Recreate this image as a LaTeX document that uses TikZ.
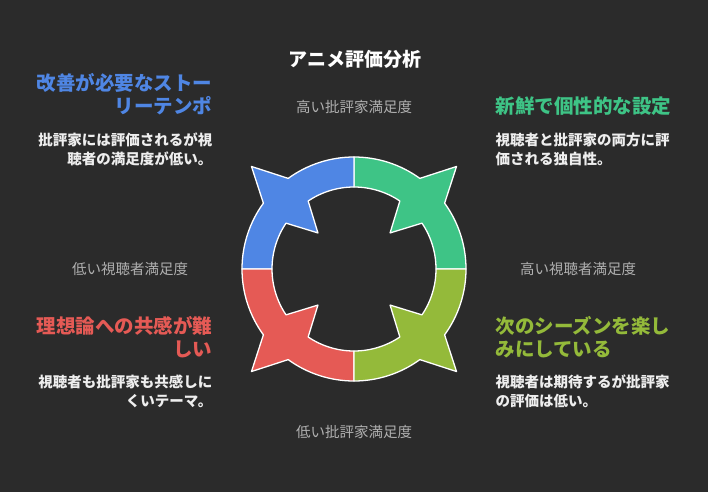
\documentclass[tikz,border=0pt]{standalone}
\usepackage{fontspec}
\setmainfont{Noto Sans CJK JP}
\definecolor{bg}{HTML}{2B2B2B}
\definecolor{cblue}{HTML}{4F86E4}
\definecolor{cgreen}{HTML}{3EC486}
\definecolor{colive}{HTML}{94BA3A}
\definecolor{cred}{HTML}{E55A55}
\definecolor{axisc}{HTML}{B0B0B0}
\definecolor{bodyc}{HTML}{EEEEEE}
\begin{document}
\begin{tikzpicture}[x=1pt,y=-1pt,
  seg/.style={draw=white,line width=1.3pt,line join=round},
  axislbl/.style={text=axisc,font=\fontsize{14.5}{17}\selectfont},
  headR/.style={anchor=east,align=right,font=\fontsize{19.5}{22.5}\selectfont\bfseries},
  headL/.style={anchor=west,align=left,font=\fontsize{19.5}{22.5}\selectfont\bfseries},
  bodyR/.style={anchor=east,align=right,text=bodyc,font=\fontsize{14.5}{19}\selectfont\bfseries},
  bodyL/.style={anchor=west,align=left,text=bodyc,font=\fontsize{14.5}{19}\selectfont\bfseries}]
\fill[bg] (0,0) rectangle (708,492);
\foreach \col/\b in {cgreen/0,cblue/90,cred/180,colive/270}{
  \pgfmathsetmacro{\m}{\b+45}
  \fill[\col,seg,shift={(354,269)},y=1pt] (\b:112) arc[start angle=\b,end angle=\m-9,radius=112]
    -- (\m:145) -- (\m+9:112) arc[start angle=\m+9,end angle=\b+90,radius=112]
    -- (\b+90:82) arc[start angle=\b+90,end angle=\m+11,radius=82]
    -- (\m:51) -- (\m-11:82) arc[start angle=\m-11,end angle=\b,radius=82] -- cycle;
}
\node[text=white,font=\fontsize{19}{22}\selectfont\bfseries] (title) at (355,59) {アニメ評価分析};
\node[axislbl] (hc) at (354,107) {高い批評家満足度};
\node[axislbl] (lc) at (354,432) {低い批評家満足度};
\node[axislbl] (la) at (130,269) {低い視聴者満足度};
\node[axislbl] (ha) at (578,269) {高い視聴者満足度};
\node[headR,text=cblue] (h1) at (216,94) {改善が必要なストー\\リーテンポ};
\node[bodyR] (b1) at (216,149.5) {批評家には評価されるが視\\聴者の満足度が低い。};
\node[headL,text=cgreen] (h2) at (492,106) {新鮮で個性的な設定};
\node[bodyL] (b2) at (492,149.5) {視聴者と批評家の両方に評\\価される独自性。};
\node[headR,text=cred] (h3) at (216,337) {理想論への共感が難\\しい};
\node[bodyR] (b3) at (216,391) {視聴者も批評家も共感しに\\くいテーマ。};
\node[headL,text=colive] (h4) at (492,337) {次のシーズンを楽し\\みにしている};
\node[bodyL] (b4) at (492,391) {視聴者は期待するが批評家\\の評価は低い。};
\end{tikzpicture}
\end{document}
